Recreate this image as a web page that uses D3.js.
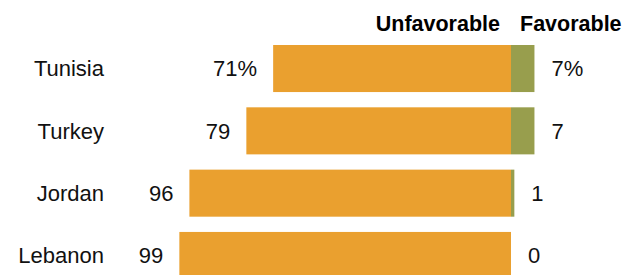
<!DOCTYPE html>
<html><head><meta charset="utf-8">
<script src="https://cdn.jsdelivr.net/npm/d3@7"></script>
<style>body{margin:0;background:#fff}svg{display:block}</style>
</head><body>
<script>
const countries = ["Tunisia", "Turkey", "Jordan", "Lebanon"];
const unfavorable = [71, 79, 96, 99];
const favorable = [7, 7, 1, 0];
const unfavLabels = ["71%", "79", "96", "99"];
const favLabels = ["7%", "7", "1", "0"];
const headers = ["Unfavorable", "Favorable"];

const W = 634, H = 275;
const svg = d3.select("body").append("svg").attr("width", W).attr("height", H);

const x = d3.scaleLinear().domain([-100, 100]).range([511 - 335, 511 + 335]);
const y = d3.scaleBand().domain(countries).range([45, 279]).paddingInner(0.245).paddingOuter(0);

const font = "'Liberation Sans', Arial, sans-serif";

const rows = svg.selectAll("g.row").data(countries).enter().append("g").attr("class", "row");

rows.append("rect")
  .attr("x", (d, i) => x(-unfavorable[i]))
  .attr("y", d => y(d))
  .attr("width", (d, i) => x(0) - x(-unfavorable[i]))
  .attr("height", y.bandwidth())
  .attr("fill", "#EAA02F");

rows.append("rect")
  .attr("x", x(0))
  .attr("y", d => y(d))
  .attr("width", (d, i) => x(favorable[i]) - x(0))
  .attr("height", y.bandwidth())
  .attr("fill", "#989E4D");

rows.append("text")
  .attr("x", 104)
  .attr("y", d => y(d) + y.bandwidth() / 2)
  .attr("dy", "0.36em")
  .attr("text-anchor", "end")
  .attr("font-family", font).attr("font-size", 22).attr("fill", "#111")
  .text(d => d);

rows.append("text")
  .attr("x", (d, i) => x(-unfavorable[i]) - 16)
  .attr("y", d => y(d) + y.bandwidth() / 2)
  .attr("dy", "0.36em")
  .attr("text-anchor", "end")
  .attr("font-family", font).attr("font-size", 22).attr("fill", "#111")
  .text((d, i) => unfavLabels[i]);

rows.append("text")
  .attr("x", (d, i) => x(favorable[i]) + 17)
  .attr("y", d => y(d) + y.bandwidth() / 2)
  .attr("dy", "0.36em")
  .attr("text-anchor", "start")
  .attr("font-family", font).attr("font-size", 22).attr("fill", "#111")
  .text((d, i) => favLabels[i]);

svg.append("text")
  .attr("x", 500).attr("y", 31)
  .attr("text-anchor", "end")
  .attr("font-family", "'Liberation Sans Narrow', 'Liberation Sans', Arial, sans-serif")
  .attr("font-weight", "bold").attr("font-size", 21.5).attr("fill", "#000")
  .text(headers[0]);

svg.append("text")
  .attr("x", 520).attr("y", 31)
  .attr("text-anchor", "start")
  .attr("font-family", "'Liberation Sans Narrow', 'Liberation Sans', Arial, sans-serif")
  .attr("font-weight", "bold").attr("font-size", 21.5).attr("fill", "#000")
  .text(headers[1]);
</script>
</body></html>
